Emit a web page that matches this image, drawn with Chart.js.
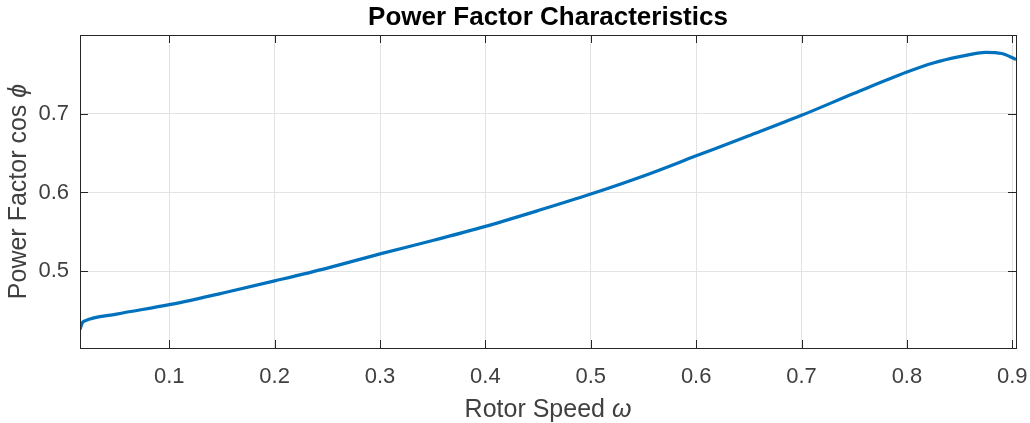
<!DOCTYPE html>
<html><head><meta charset="utf-8">
<script src="https://cdn.jsdelivr.net/npm/chart.js@4/dist/chart.umd.min.js"></script>
<style>html,body{margin:0;padding:0;background:#fff;overflow:hidden}</style>
</head><body>
<canvas id="c" width="1030" height="423"></canvas>
<script>
const rotorSpeed  = [0.0153, 0.0175, 0.02, 0.05, 0.1, 0.15, 0.2, 0.25, 0.3, 0.35, 0.4, 0.45, 0.5, 0.55, 0.6, 0.65, 0.7, 0.75, 0.8, 0.825, 0.85, 0.875, 0.89, 0.9035];
const powerFactor = [0.426, 0.4345, 0.437, 0.4455, 0.4575, 0.472, 0.4877, 0.504, 0.522, 0.539, 0.557, 0.577, 0.598, 0.621, 0.6465, 0.672, 0.698, 0.726, 0.753, 0.7645, 0.7725, 0.778, 0.7765, 0.769];
const xTicks = [0.1, 0.2, 0.3, 0.4, 0.5, 0.6, 0.7, 0.8, 0.9];
const yTicks = [0.5, 0.6, 0.7];
const xRange = [0.0153, 0.9035];
const yRange = [0.4025, 0.8];
const titleText = 'Power Factor Characteristics';
const xLabel = ['Rotor Speed ', 'ω'];
const yLabel = ['Power Factor cos ', 'ϕ'];

const FONT = '"Liberation Sans", Arial, Helvetica, sans-serif';
const AXIS = '#262626';

const framePlugin = {
  id: 'frame',
  afterDraw(chart) {
    const ctx = chart.ctx, a = chart.chartArea;
    const xs = chart.scales.x, ys = chart.scales.y;
    ctx.save();
    ctx.strokeStyle = AXIS;
    ctx.lineWidth = 1;
    ctx.strokeRect(Math.round(a.left) + 0.5, Math.round(a.top) + 0.5, Math.round(a.right - a.left), Math.round(a.bottom - a.top));
    const tl = 8;
    ctx.beginPath();
    xTicks.forEach(v => {
      const px = Math.round(xs.getPixelForValue(v)) + 0.5;
      ctx.moveTo(px, a.bottom); ctx.lineTo(px, a.bottom - tl);
      ctx.moveTo(px, a.top); ctx.lineTo(px, a.top + tl);
    });
    yTicks.forEach(v => {
      const py = Math.round(ys.getPixelForValue(v)) + 0.5;
      ctx.moveTo(a.left, py); ctx.lineTo(a.left + tl, py);
      ctx.moveTo(a.right, py); ctx.lineTo(a.right - tl, py);
    });
    ctx.stroke();

    // title
    ctx.fillStyle = '#000';
    ctx.font = 'bold 26px ' + FONT;
    ctx.textAlign = 'center';
    ctx.textBaseline = 'alphabetic';
    ctx.fillText(titleText, (a.left + a.right) / 2, 25);

    // x label
    const LS = 25;
    ctx.fillStyle = '#404040';
    ctx.font = LS + 'px ' + FONT;
    const w1 = ctx.measureText(xLabel[0]).width;
    ctx.font = 'italic ' + LS + 'px ' + FONT;
    const w2 = ctx.measureText(xLabel[1]).width;
    let sx = (a.left + a.right) / 2 - (w1 + w2) / 2;
    ctx.textAlign = 'left';
    ctx.font = LS + 'px ' + FONT;
    ctx.fillText(xLabel[0], sx, 417);
    ctx.font = 'italic ' + LS + 'px ' + FONT;
    ctx.fillText(xLabel[1], sx + w1, 417);

    // y label
    ctx.translate(26, (a.top + a.bottom) / 2);
    ctx.rotate(-Math.PI / 2);
    ctx.font = LS + 'px ' + FONT;
    const v1 = ctx.measureText(yLabel[0]).width;
    ctx.font = 'italic ' + LS + 'px ' + FONT;
    const v2 = ctx.measureText(yLabel[1]).width;
    const sy = -(v1 + v2) / 2;
    ctx.font = LS + 'px ' + FONT;
    ctx.fillText(yLabel[0], sy, 0);
    ctx.font = 'italic ' + LS + 'px ' + FONT;
    ctx.fillText(yLabel[1], sy + v1, 0);
    ctx.restore();
  }
};

new Chart(document.getElementById('c'), {
  type: 'line',
  data: {
    datasets: [{
      data: rotorSpeed.map((x, i) => ({ x, y: powerFactor[i] })),
      borderColor: '#0072BD',
      borderWidth: 3.2,
      pointRadius: 0,
      fill: false,
      cubicInterpolationMode: 'monotone'
    }]
  },
  options: {
    responsive: false,
    devicePixelRatio: 1,
    animation: false,
    layout: { padding: { top: 35, right: 14, bottom: 0, left: 0 } },
    plugins: { legend: { display: false }, title: { display: false }, tooltip: { enabled: false } },
    scales: {
      x: {
        type: 'linear',
        min: xRange[0], max: xRange[1],
        afterBuildTicks: s => { s.ticks = xTicks.map(v => ({ value: v })); },
        afterFit: s => { s.height = 75; s.paddingLeft = 0; s.paddingRight = 0; },
        grid: { color: '#e3e3e3', drawTicks: false },
        border: { display: false },
        ticks: { color: '#404040', font: { family: FONT, size: 22 }, padding: 16, maxRotation: 0, callback: v => v.toFixed(1) }
      },
      y: {
        type: 'linear',
        min: yRange[0], max: yRange[1],
        afterBuildTicks: s => { s.ticks = yTicks.map(v => ({ value: v })); },
        afterFit: s => { s.width = 80; s.paddingTop = 0; s.paddingBottom = 0; },
        grid: { color: '#e3e3e3', drawTicks: false },
        border: { display: false },
        ticks: { color: '#404040', font: { family: FONT, size: 22 }, padding: 11, callback: v => v.toFixed(1) }
      }
    }
  },
  plugins: [framePlugin]
});
</script>
</body></html>
